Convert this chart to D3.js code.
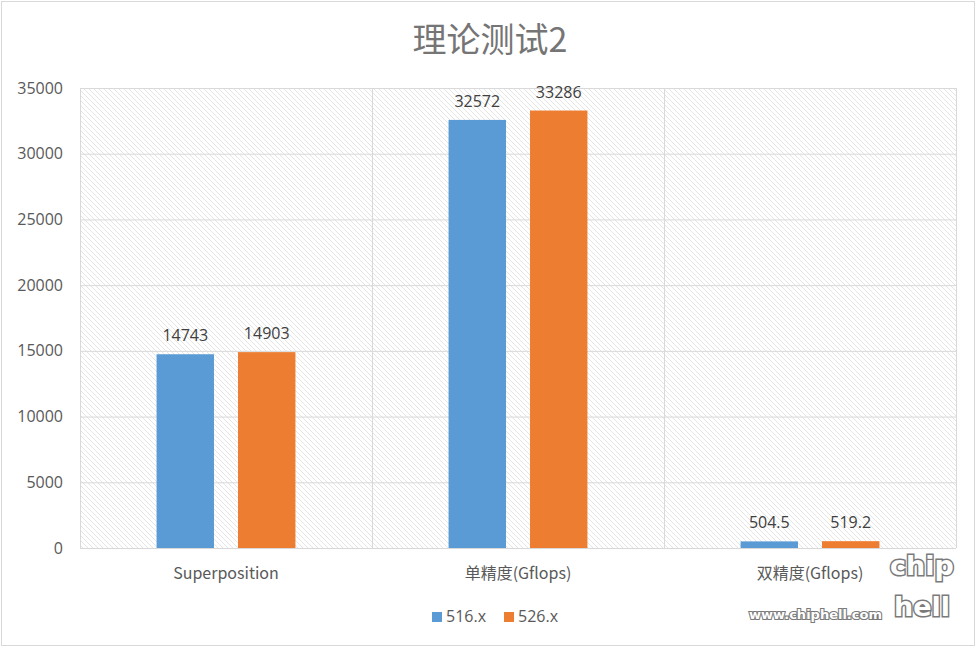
<!DOCTYPE html>
<html>
<head>
<meta charset="utf-8">
<script src="https://cdn.jsdelivr.net/npm/d3@7"></script>
<style>
  body { margin: 0; background: #fff; }
  svg { display: block; font-family: "Noto Sans CJK SC", "Noto Sans", sans-serif; }
</style>
</head>
<body>
<svg></svg>
<script>
const width = 980;
const height = 649;
const margin = { top: 88, right: 24, bottom: 101, left: 80 };

// data
const categories = ["Superposition", "单精度(Gflops)", "双精度(Gflops)"];
const seriesNames = ["516.x", "526.x"];
const values516 = [14743, 32572, 504.5];
const values526 = [14903, 33286, 519.2];
const yTicks = [0, 5000, 10000, 15000, 20000, 25000, 30000, 35000];

const colors = ["#5b9bd5", "#ed7d31"];

const svg = d3.select("svg").attr("width", width).attr("height", height);

// outer frame
svg.append("rect")
  .attr("x", 1.5).attr("y", 1.5)
  .attr("width", width - 7).attr("height", height - 5)
  .attr("fill", "#fff").attr("stroke", "#d9d9d9");

// hatch pattern (diagonal, top-left to bottom-right)
const defs = svg.append("defs");
const pat = defs.append("pattern")
  .attr("id", "hatch")
  .attr("patternUnits", "userSpaceOnUse")
  .attr("width", 5).attr("height", 5);
pat.append("rect").attr("width", 5).attr("height", 5).attr("fill", "#fff");
pat.append("path")
  .attr("d", "M-1,-1 L6,6 M-1,4 L1,6 M4,-1 L6,1")
  .attr("stroke", "#e2e2e2")
  .attr("stroke-width", 0.9);

const x = d3.scaleBand()
  .domain(categories)
  .range([margin.left, width - margin.right]);

const xInner = d3.scaleBand()
  .domain(seriesNames)
  .range([0, x.bandwidth()])
  .paddingInner(0.295)
  .paddingOuter(0.94);

const y = d3.scaleLinear()
  .domain([0, 35000])
  .range([height - margin.bottom, margin.top]);

// plot background
svg.append("rect")
  .attr("x", margin.left)
  .attr("y", margin.top)
  .attr("width", width - margin.left - margin.right)
  .attr("height", height - margin.top - margin.bottom)
  .attr("fill", "url(#hatch)");

// horizontal gridlines
svg.append("g")
  .selectAll("line")
  .data(yTicks)
  .join("line")
  .attr("x1", margin.left)
  .attr("x2", width - margin.right)
  .attr("y1", (d) => y(d) + 0.5)
  .attr("y2", (d) => y(d) + 0.5)
  .attr("stroke", "#d9d9d9")
  .attr("stroke-width", 1);

// vertical category separators
const bounds = categories.map((c) => x(c)).concat([x(categories[categories.length - 1]) + x.bandwidth()]);
svg.append("g")
  .selectAll("line")
  .data(bounds)
  .join("line")
  .attr("x1", (d) => d + 0.5)
  .attr("x2", (d) => d + 0.5)
  .attr("y1", margin.top)
  .attr("y2", height - margin.bottom)
  .attr("stroke", "#d9d9d9")
  .attr("stroke-width", 1);

// y axis labels
const yAxis = svg.append("g")
  .attr("transform", `translate(${margin.left - 17},0)`)
  .call(d3.axisLeft(y).tickValues(yTicks).tickFormat(d3.format("d")).tickSize(0).tickPadding(0));
yAxis.select(".domain").remove();
yAxis.selectAll("text")
  .style("font-size", "16px")
  .attr("fill", "#595959")
  .attr("font-family", "'Open Sans', 'Noto Sans', sans-serif");

// bars
const rows = categories.map((c, i) => ({
  category: c,
  vals: [
    { key: seriesNames[0], value: values516[i] },
    { key: seriesNames[1], value: values526[i] },
  ],
}));

const groups = svg.append("g")
  .selectAll("g")
  .data(rows)
  .join("g")
  .attr("transform", (d) => `translate(${x(d.category)},0)`);

groups.selectAll("rect")
  .data((d) => d.vals)
  .join("rect")
  .attr("x", (d) => xInner(d.key))
  .attr("y", (d) => y(d.value))
  .attr("width", xInner.bandwidth())
  .attr("height", (d) => y(0) - y(d.value))
  .attr("fill", (d, i) => colors[i]);

// value labels
groups.selectAll("text")
  .data((d) => d.vals)
  .join("text")
  .attr("x", (d) => xInner(d.key) + xInner.bandwidth() / 2)
  .attr("y", (d) => y(d.value) - 13)
  .attr("text-anchor", "middle")
  .style("font-size", "16px")
  .attr("fill", "#404040")
  .attr("font-family", "'Open Sans', 'Noto Sans', sans-serif")
  .text((d) => d.value);

// x axis labels
svg.append("g")
  .selectAll("text")
  .data(categories)
  .join("text")
  .attr("x", (d) => x(d) + x.bandwidth() / 2)
  .attr("y", height - margin.bottom + 31)
  .attr("text-anchor", "middle")
  .style("font-size", "16px")
  .attr("fill", "#595959")
  .text((d) => d);

// title
svg.append("text")
  .attr("x", 490)
  .attr("y", 52)
  .attr("text-anchor", "middle")
  .style("font-size", "34px")
  .attr("fill", "#757575")
  .text("理论测试2");

// legend
const legend = svg.append("g")
  .selectAll("g")
  .data(seriesNames)
  .join("g")
  .attr("transform", (d, i) => `translate(${432 + i * 72},612)`);
legend.append("rect")
  .attr("width", 10).attr("height", 10)
  .attr("fill", (d, i) => colors[i]);
legend.append("text")
  .attr("x", 14)
  .attr("y", 10)
  .style("font-size", "16px")
  .attr("fill", "#595959")
  .attr("font-family", "'Open Sans', 'Noto Sans', sans-serif")
  .text((d) => d);

// watermark
const wm = svg.append("g").attr("font-family", "'DejaVu Sans', sans-serif");
wm.append("text")
  .attr("x", 882).attr("y", 619)
  .attr("text-anchor", "end")
  .style("font-size", "13px")
  .attr("font-weight", "bold")
  .attr("fill", "#fff")
  .attr("stroke", "#7a7a7a")
  .attr("stroke-width", 2.2)
  .attr("paint-order", "stroke")
  .text("www.chiphell.com");
wm.append("text")
  .attr("x", 922).attr("y", 575)
  .attr("text-anchor", "middle")
  .style("font-size", "27px")
  .attr("font-weight", "bold")
  .attr("fill", "#fff")
  .attr("stroke", "#7a7a7a")
  .attr("stroke-width", 3)
  .attr("paint-order", "stroke")
  .text("chip");
wm.append("text")
  .attr("x", 922).attr("y", 616)
  .attr("text-anchor", "middle")
  .style("font-size", "27px")
  .attr("font-weight", "bold")
  .attr("fill", "#fff")
  .attr("stroke", "#7a7a7a")
  .attr("stroke-width", 3)
  .attr("paint-order", "stroke")
  .text("hell");
</script>
</body>
</html>
